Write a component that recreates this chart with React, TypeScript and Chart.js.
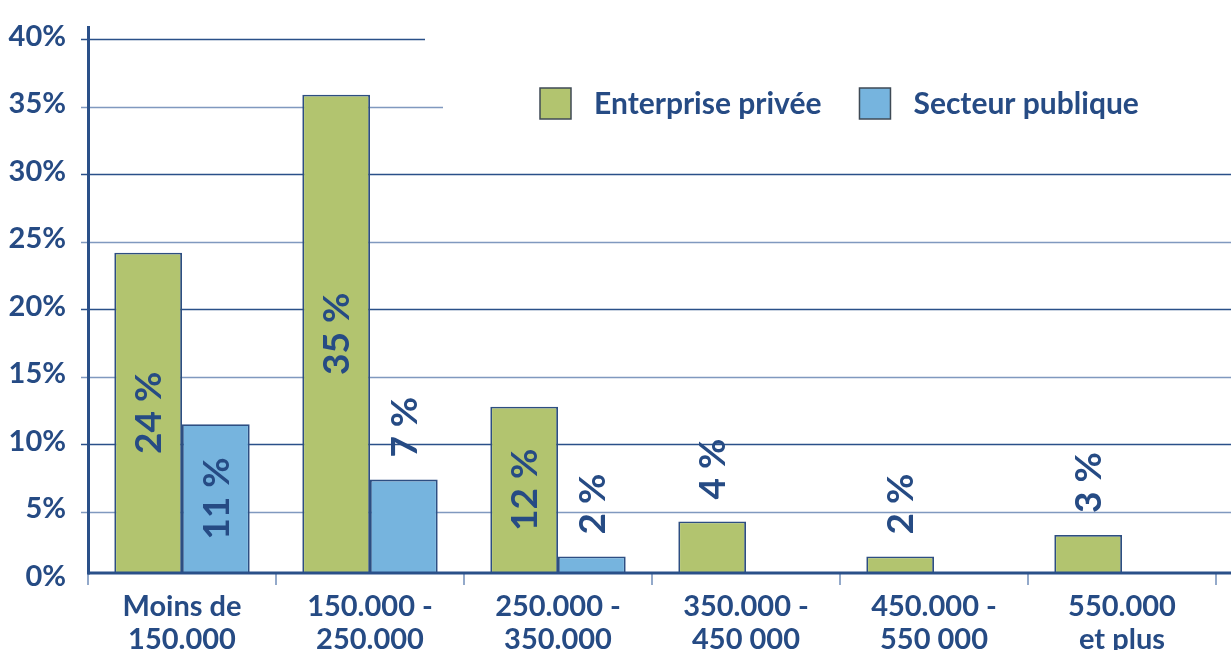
import React, { useEffect, useRef } from "react";
import { Chart, registerables } from "chart.js";

Chart.register(...registerables);

// ---- Data ----
const categories: string[][] = [
  ["Moins de", "150.000"],
  ["150.000 -", "250.000"],
  ["250.000 -", "350.000"],
  ["350.000 -", "450 000"],
  ["450.000 -", "550 000"],
  ["550.000", "et plus"],
];
const seriesNames = ["Enterprise privée", "Secteur publique"];
const priveeValues = [24.2, 35.9, 12.8, 4.3, 1.7, 3.3];
const publicValues: (number | null)[] = [11.5, 7.4, 1.7, null, null, null];
const priveeLabels = ["24 %", "35 %", "12 %", "4 %", "2 %", "3 %"];
const publicLabels = ["11 %", "7 %", "2 %", "", "", ""];
const yMin = 0;
const yMax = 40;
const yStep = 5;
const barBase = 0.48;
const insideThreshold = 10;

// ---- Styles ----
const GREEN = "#b2c46f";
const BLUE = "#76b4de";
const BAR_BORDER = "#2d4e82";
const TEXT = "#264b84";
const DARK_LINE = "#2a5089";
const LIGHT_LINE = "#8099bf";
const FONT = "Lato";
const WEIGHT = "bold";

const W = 1231;
const H = 650;

const axesPlugin = {
  id: "customAxes",
  beforeDatasetsDraw(chart: any) {
    const ctx = chart.ctx;
    const y = chart.scales.y;
    const left = chart.chartArea.left;
    ctx.save();
    for (let v = yStep; v <= yMax; v += yStep) {
      const py = Math.round(y.getPixelForValue(v)) + 0.5;
      let end = W;
      if (v === 40) end = 425;
      if (v === 35) end = 443;
      ctx.strokeStyle = v % 10 === 0 ? DARK_LINE : LIGHT_LINE;
      ctx.lineWidth = 1.3;
      ctx.beginPath();
      ctx.moveTo(left - 7, py);
      ctx.lineTo(end, py);
      ctx.stroke();
    }
    ctx.restore();
  },
  afterDatasetsDraw(chart: any) {
    const ctx = chart.ctx;
    const y = chart.scales.y;
    const left = chart.chartArea.left;
    const right = chart.chartArea.right;
    const axisY = y.getPixelForValue(barBase);
    ctx.save();
    const n = categories.length;
    const step = (right - left) / n;
    ctx.strokeStyle = "#6f8cb8";
    ctx.lineWidth = 1.5;
    for (let i = 0; i <= n; i++) {
      const px = left + i * step;
      ctx.beginPath();
      ctx.moveTo(px, axisY);
      ctx.lineTo(px, axisY + 12);
      ctx.stroke();
    }
    ctx.strokeStyle = DARK_LINE;
    ctx.lineWidth = 3;
    ctx.beginPath();
    ctx.moveTo(left, axisY);
    ctx.lineTo(W, axisY);
    ctx.stroke();
    ctx.beginPath();
    ctx.moveTo(left + 0.5, 26);
    ctx.lineTo(left + 0.5, axisY + 1.5);
    ctx.stroke();
    ctx.restore();
  },
};

const labelPlugin = {
  id: "barLabels",
  afterDatasetsDraw(chart: any) {
    const ctx = chart.ctx;
    const fontSize = 37;
    const capH = fontSize * 0.72;
    ctx.save();
    ctx.fillStyle = TEXT;
    ctx.font = `${WEIGHT} ${fontSize}px ${FONT}`;
    const labelSets = [priveeLabels, publicLabels];
    const valueSets = [priveeValues, publicValues];
    chart.data.datasets.forEach((ds: any, di: number) => {
      const meta = chart.getDatasetMeta(di);
      meta.data.forEach((bar: any, i: number) => {
        const text = labelSets[di][i];
        const val = valueSets[di][i];
        if (!text || val == null) return;
        const { x, y, base } = bar.getProps(["x", "y", "base"], true);
        ctx.save();
        if (val >= insideThreshold) {
          ctx.translate(x, (y + base) / 2);
          ctx.rotate(-Math.PI / 2);
          ctx.textAlign = "center";
        } else {
          ctx.translate(x, y - 22);
          ctx.rotate(-Math.PI / 2);
          ctx.textAlign = "left";
        }
        ctx.textBaseline = "alphabetic";
        ctx.fillText(text, 0, capH / 2);
        ctx.restore();
      });
    });
    ctx.restore();
  },
};

const legendPlugin = {
  id: "customLegend",
  afterDraw(chart: any) {
    const ctx = chart.ctx;
    ctx.save();
    ctx.font = `${WEIGHT} 30px ${FONT}`;
    ctx.textBaseline = "middle";
    ctx.textAlign = "left";
    let bx = 540;
    const by = 88;
    const size = 31;
    chart.data.datasets.forEach((ds: any) => {
      ctx.fillStyle = ds.backgroundColor;
      ctx.fillRect(bx, by, size, size);
      ctx.strokeStyle = "#3f4a55";
      ctx.lineWidth = 1.5;
      ctx.strokeRect(bx, by, size, size);
      const tx = bx + size + 23;
      ctx.fillStyle = TEXT;
      ctx.fillText(ds.label, tx, by + size / 2 + 1);
      bx = tx + ctx.measureText(ds.label).width + 38;
    });
    ctx.restore();
  },
};

export default function App() {
  const ref = useRef<HTMLCanvasElement | null>(null);
  useEffect(() => {
    if (!ref.current) return;
    const chart = new Chart(ref.current, {
      type: "bar",
      data: {
        labels: categories,
        datasets: [
          {
            label: seriesNames[0],
            data: priveeValues,
            backgroundColor: GREEN,
            borderColor: BAR_BORDER,
            borderWidth: 1.8,
            base: barBase,
          },
          {
            label: seriesNames[1],
            data: publicValues,
            backgroundColor: BLUE,
            borderColor: BAR_BORDER,
            borderWidth: 1.8,
            base: barBase,
          },
        ],
      },
      options: {
        animation: false,
        responsive: false,
        devicePixelRatio: 1,
        layout: { padding: { top: 39.3, right: 15, left: 0, bottom: 0 } },
        datasets: {
          bar: { categoryPercentage: 0.72, barPercentage: 1.0 },
        },
        plugins: {
          legend: { display: false },
          tooltip: { enabled: false },
        },
        scales: {
          x: {
            grid: { display: false, drawTicks: false },
            border: { display: false },
            ticks: {
              color: TEXT,
              font: { family: FONT, weight: WEIGHT, size: 29, lineHeight: 1.15 },
              padding: 10,
              maxRotation: 0,
              autoSkip: false,
            },
            afterFit: (s: any) => {
              s.height = 70.5;
            },
          },
          y: {
            min: yMin,
            max: yMax,
            grid: { display: false, drawTicks: false },
            border: { display: false },
            ticks: {
              stepSize: yStep,
              color: TEXT,
              font: { family: FONT, weight: WEIGHT, size: 29 },
              padding: 22,
              labelOffset: -3,
              callback: (v: any) => `${v}%`,
            },
            afterFit: (s: any) => {
              s.width = 88;
            },
          },
        },
      },
      plugins: [axesPlugin, labelPlugin, legendPlugin],
    } as any);
    return () => chart.destroy();
  }, []);
  return (
    <div style={{ position: "fixed", left: 0, top: 0, width: W, height: H, background: "#fff" }}>
      <canvas ref={ref} width={W} height={H} style={{ display: "block" }} />
    </div>
  );
}
